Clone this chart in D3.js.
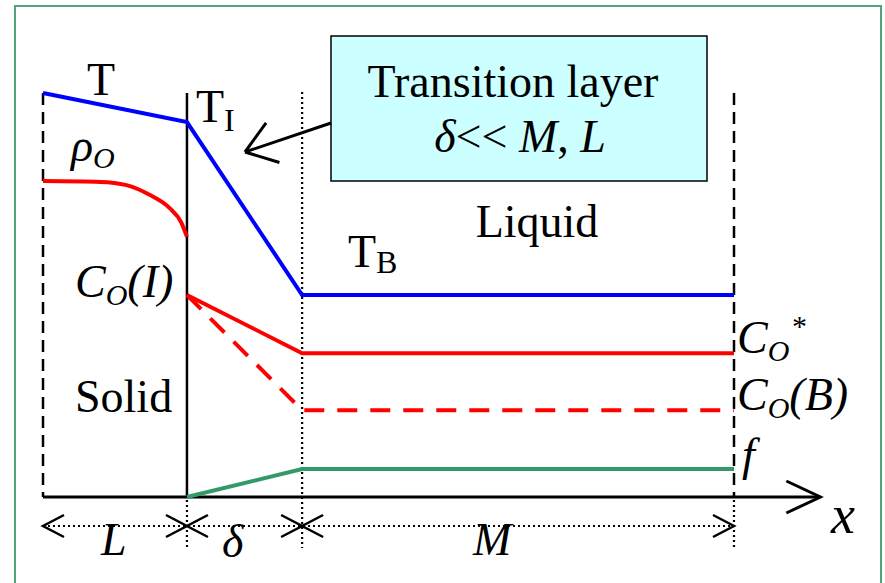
<!DOCTYPE html>
<html>
<head>
<meta charset="utf-8">
<script src="https://cdn.jsdelivr.net/npm/d3@7.9.0/dist/d3.min.js"></script>
<style>
  html, body { margin: 0; padding: 0; background: #fff; }
  svg { display: block; font-family: "Liberation Serif", "DejaVu Serif", serif; }
  .it { font-style: italic; }
</style>
</head>
<body>
<svg id="chart" width="885" height="583"></svg>
<script>
// zone boundaries along x (solid end, interface, end of transition layer, end of liquid)
const zoneEdges = [0, 1.0, 1.8, 4.8];
const axisEnd = 5.4;

// profiles, as fraction of plot height
const tempX = [0, 1.0, 1.8, 4.8];
const tempY = [1.0, 0.928, 0.5, 0.5];

const rhoX = [0, 0.4, 0.58, 0.74, 0.88, 0.96, 1.0];
const rhoY = [0.782, 0.78, 0.772, 0.748, 0.715, 0.68, 0.644];

const coStarX = [1.0, 1.8, 4.8];
const coStarY = [0.5, 0.356, 0.356];

const coBX = [1.0, 1.8, 4.8];
const coBY = [0.5, 0.215, 0.215];

const fX = [1.0, 1.8, 4.8];
const fY = [0, 0.069, 0.069];

const svg = d3.select('#chart');

const x = d3.scaleLinear().domain([0, 4.8]).range([43, 734]);
const y = d3.scaleLinear().domain([0, 1]).range([497, 93]);

const zip = (xs, ys) => xs.map((v, i) => [v, ys[i]]);
const line = d3.line().x(d => x(d[0])).y(d => y(d[1]));

// frame
svg.append('rect')
    .attr('x', 15).attr('y', 6).attr('width', 866).attr('height', 600)
    .attr('fill', 'none').attr('stroke', '#4ea67a').attr('stroke-width', 2);

// vertical boundary lines
const yTop = y(1);
const yAxis = y(0);
const yDimBottom = 548;

svg.append('line')
    .attr('x1', x(zoneEdges[0])).attr('x2', x(zoneEdges[0]))
    .attr('y1', yTop).attr('y2', yAxis)
    .attr('stroke', '#000').attr('stroke-width', 2.5).attr('stroke-dasharray', '12 7');

svg.append('line')
    .attr('x1', x(zoneEdges[1])).attr('x2', x(zoneEdges[1]))
    .attr('y1', yTop).attr('y2', yAxis)
    .attr('stroke', '#000').attr('stroke-width', 2.5);

svg.append('line')
    .attr('x1', x(zoneEdges[3])).attr('x2', x(zoneEdges[3]))
    .attr('y1', yTop).attr('y2', yAxis)
    .attr('stroke', '#000').attr('stroke-width', 2.5).attr('stroke-dasharray', '12 7');

// dotted guides
svg.append('line')
    .attr('x1', x(zoneEdges[2])).attr('x2', x(zoneEdges[2]))
    .attr('y1', yTop - 1).attr('y2', yDimBottom)
    .attr('stroke', '#000').attr('stroke-width', 2.2).attr('stroke-dasharray', '2 3');

[zoneEdges[1], zoneEdges[3]].forEach(v => {
    svg.append('line')
        .attr('x1', x(v)).attr('x2', x(v))
        .attr('y1', yAxis + 3).attr('y2', yDimBottom)
        .attr('stroke', '#000').attr('stroke-width', 2.2).attr('stroke-dasharray', '2 3');
});

// x axis with open arrow
svg.append('line')
    .attr('x1', x(0)).attr('x2', x(axisEnd))
    .attr('y1', yAxis).attr('y2', yAxis)
    .attr('stroke', '#000').attr('stroke-width', 3);
svg.append('path')
    .attr('d', `M${x(axisEnd) - 34},${yAxis - 16} L${x(axisEnd)},${yAxis} L${x(axisEnd) - 34},${yAxis + 16}`)
    .attr('fill', 'none').attr('stroke', '#000').attr('stroke-width', 3);

// dimension line L / delta / M
const yDim = 526;
svg.append('line')
    .attr('x1', x(zoneEdges[0])).attr('x2', x(zoneEdges[3]))
    .attr('y1', yDim).attr('y2', yDim)
    .attr('stroke', '#000').attr('stroke-width', 2.2).attr('stroke-dasharray', '2 3');

function chevron(px, dir) {
    svg.append('path')
        .attr('d', `M${px + dir * 21},${yDim - 11} L${px},${yDim} L${px + dir * 21},${yDim + 11}`)
        .attr('fill', 'none').attr('stroke', '#000').attr('stroke-width', 2.5);
}
chevron(x(zoneEdges[0]), 1);
zoneEdges.slice(1, 3).forEach(v => { chevron(x(v), -1); chevron(x(v), 1); });
chevron(x(zoneEdges[3]), -1);

// profiles
svg.append('path')
    .attr('d', line(zip(tempX, tempY)))
    .attr('fill', 'none').attr('stroke', '#0000ff').attr('stroke-width', 4);

svg.append('path')
    .attr('d', line.curve(d3.curveMonotoneX)(zip(rhoX, rhoY)))
    .attr('fill', 'none').attr('stroke', '#ff0000').attr('stroke-width', 4);
line.curve(d3.curveLinear);

svg.append('path')
    .attr('d', line(zip(coStarX, coStarY)))
    .attr('fill', 'none').attr('stroke', '#ff0000').attr('stroke-width', 4);

svg.append('path')
    .attr('d', line(zip(coBX, coBY)))
    .attr('fill', 'none').attr('stroke', '#ff0000').attr('stroke-width', 4)
    .attr('stroke-dasharray', '20 13');

svg.append('path')
    .attr('d', line(zip(fX, fY)))
    .attr('fill', 'none').attr('stroke', '#339966').attr('stroke-width', 4);

// transition layer callout
svg.append('rect')
    .attr('x', 331).attr('y', 36).attr('width', 376).attr('height', 145)
    .attr('fill', '#ccffff').attr('stroke', '#000').attr('stroke-width', 1.5);

svg.append('text')
    .attr('x', 513).attr('y', 97).attr('text-anchor', 'middle')
    .attr('font-size', 46).text('Transition layer');

const t2 = svg.append('text')
    .attr('x', 520).attr('y', 152).attr('text-anchor', 'middle')
    .attr('font-size', 46);
t2.append('tspan').attr('class', 'it').text('δ');
t2.append('tspan').text('<< ');
t2.append('tspan').attr('class', 'it').text('M');
t2.append('tspan').text(', ');
t2.append('tspan').attr('class', 'it').text('L');

// pointer from callout to interface
const tip = [245, 152], tail = [331, 123];
svg.append('line')
    .attr('x1', tail[0]).attr('y1', tail[1]).attr('x2', tip[0]).attr('y2', tip[1])
    .attr('stroke', '#000').attr('stroke-width', 3);
const ang = Math.atan2(tail[1] - tip[1], tail[0] - tip[0]);
[-0.62, 0.62].forEach(a => {
    svg.append('line')
        .attr('x1', tip[0]).attr('y1', tip[1])
        .attr('x2', tip[0] + 36 * Math.cos(ang + a)).attr('y2', tip[1] + 36 * Math.sin(ang + a))
        .attr('stroke', '#000').attr('stroke-width', 3);
});

// labels
function label(px, py, parts) {
    const t = svg.append('text').attr('x', px).attr('y', py);
    parts.forEach(p => {
        t.append('tspan')
            .attr('class', p.it ? 'it' : null)
            .attr('font-size', p.size || 46)
            .attr('dy', p.dy || 0)
            .text(p.s);
    });
    return t;
}

label(87, 95, [{ s: 'T' }]);
label(196, 122, [{ s: 'T' }, { s: 'I', size: 32, dy: 9 }]);
label(348, 267, [{ s: 'T' }, { s: 'B', size: 32, dy: 6 }]);
label(71, 161, [{ s: 'ρ', it: true }, { s: 'O', it: true, size: 30, dy: 7 }]);
label(75, 297, [{ s: 'C', it: true }, { s: 'O', it: true, size: 30, dy: 8 }, { s: '(I)', it: true, dy: -8 }]);
label(75, 412, [{ s: 'Solid' }]);
svg.append('text').attr('x', 537).attr('y', 237).attr('text-anchor', 'middle')
    .attr('font-size', 46).text('Liquid');
label(737, 353, [{ s: 'C', it: true }, { s: 'O', it: true, size: 30, dy: 8 }]);
label(792, 336, [{ s: '*', size: 30 }]);
label(737, 410, [{ s: 'C', it: true }, { s: 'O', it: true, size: 30, dy: 8 }, { s: '(B)', it: true, dy: -8 }]);
label(742, 470, [{ s: 'f', it: true }]);
label(831, 533, [{ s: 'x', it: true, size: 54 }]);
label(101, 555, [{ s: 'L', it: true }]);
label(222, 557, [{ s: 'δ', it: true }]);
label(473, 555, [{ s: 'M', it: true }]);
</script>
</body>
</html>
